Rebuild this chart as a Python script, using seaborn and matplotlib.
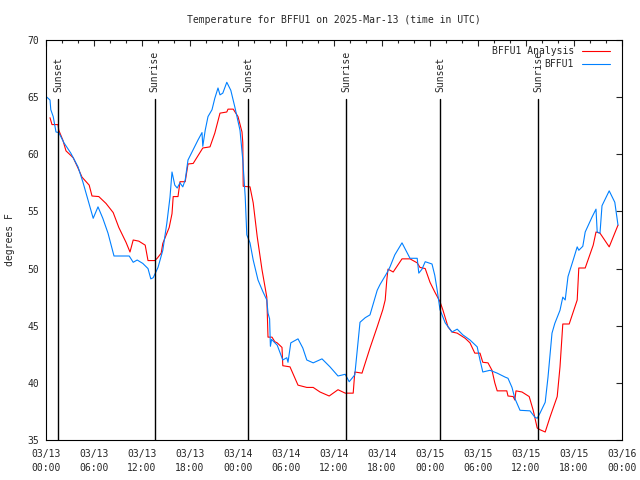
import matplotlib
matplotlib.use("Agg")
import matplotlib.pyplot as plt
import seaborn as sns
import pandas as pd
from matplotlib.ticker import MultipleLocator

# Hours since 2025-03-13 00:00 UTC
analysis_hours = [0.5, 0.75, 1.5, 1.6, 2.1, 2.5, 3.4, 4, 4.5, 5.4, 5.75, 6.6, 7.5, 8.4, 9.1, 10, 10.5, 10.9, 11.6, 12.4,
                  12.75, 13.6, 13.9, 14.4, 14.6, 15.4, 15.75, 15.9, 16.5, 16.75, 17.4, 17.75, 18.4, 19.6, 20.5, 21.1,
                  21.75, 22.6, 22.75, 23.4, 24, 24.5, 24.6, 24.65, 25.5, 25.9, 26.4, 27, 27.6, 27.75, 28.25, 28.6,
                  28.9, 29.5, 29.6, 30.5, 31.5, 32.6, 33.4, 34.25, 35.4, 36.5, 37.4, 38.4, 38.6, 39.5, 40.5, 41.4,
                  42.1, 42.4, 42.6, 42.75, 43.4, 44.5, 45.5, 46.4, 46.75, 47.4, 48, 48.6, 49.25, 49.6, 50.25, 50.75,
                  51.4, 52.4, 53, 53.6, 54.25, 54.6, 55.25, 55.75, 56.1, 56.4, 57.6, 57.75, 58.4, 58.6, 58.75, 59.5,
                  60.4, 60.9, 61.4, 61.75, 62.4, 63, 63.9, 64.25, 64.6, 65.4, 66.4, 66.6, 67.4, 68.4, 68.75, 69.25,
                  70.4, 71.5]
analysis_temp = [63.2, 62.6, 62.6, 62.1, 61.25, 60.3, 59.7, 58.8, 58.0, 57.3, 56.35, 56.3, 55.7, 54.9, 53.6, 52.3,
                 51.45, 52.5, 52.4, 52.05, 50.7, 50.7, 50.9, 51.35, 52.2, 53.6, 54.8, 56.3, 56.3, 57.6, 57.6, 59.15,
                 59.2, 60.55, 60.65, 61.85, 63.6, 63.7, 63.95, 63.95, 63.3, 61.95, 61.0, 57.2, 57.15, 55.75, 52.8,
                 49.9, 47.5, 44.0, 44.0, 43.6, 43.5, 43.1, 41.5, 41.4, 39.8, 39.6, 39.6, 39.2, 38.85, 39.4, 39.1,
                 39.1, 40.95, 40.85, 43.05, 44.9, 46.4, 47.25, 49.0, 49.95, 49.7, 50.85, 50.85, 50.5, 50.1, 50.0,
                 48.8, 47.95, 47.1, 46.4, 44.9, 44.45, 44.35, 43.9, 43.5, 42.6, 42.6, 41.8, 41.75, 41.1, 40.0, 39.3,
                 39.3, 38.85, 38.8, 38.5, 39.3, 39.2, 38.8, 37.6, 36.05, 35.9, 35.7, 37.0, 38.8, 41.4, 45.15, 45.15,
                 47.25, 50.05, 50.05, 52.05, 53.2, 53.1, 51.9, 53.8]

obs_hours = [0.1, 0.5, 0.6, 0.9, 1.25, 1.6, 2.25, 3.1, 4, 4.6, 5.25, 5.9, 6.5, 7.1, 7.75, 8.5, 10.4, 10.9, 11.4, 12.1,
             12.75, 13.1, 13.4, 14, 14.6, 15.1, 15.5, 15.75, 16.1, 16.4, 16.75, 17.1, 17.4, 17.75, 18.4, 19, 19.5,
             19.6, 19.9, 20.25, 20.75, 21.1, 21.5, 21.75, 22.1, 22.6, 23.1, 23.6, 24.25, 24.6, 24.9, 25.1, 25.5,
             25.9, 26.5, 27.1, 27.6, 27.75, 27.95, 28.05, 28.2, 28.9, 29.6, 30.1, 30.25, 30.6, 31.5, 32.1, 32.6,
             33.4, 34.5, 35.5, 36.5, 37.4, 37.9, 38.6, 39.25, 39.9, 40.5, 41.4, 41.75, 42.6, 43, 43.6, 44.5, 45.5,
             46.4, 46.6, 47, 47.4, 48.25, 48.6, 48.9, 49.25, 49.9, 50.75, 51.4, 52.1, 53, 53.9, 54.25, 54.6, 55.5,
             56.4, 57.4, 57.75, 58.25, 58.6, 59.25, 60.5, 61.1, 61.4, 61.75, 62.4, 62.75, 63.25, 63.6, 64.25, 64.6,
             64.9, 65.25, 65.9, 66.4, 66.6, 67.1, 67.4, 68.25, 68.75, 68.9, 69.25, 69.5, 70.4, 71.1, 71.5]
obs_temp = [65.0, 64.75, 63.9, 63.3, 61.95, 61.9, 61.0, 60.1, 58.9, 57.6, 56.0, 54.4, 55.4, 54.4, 53.1, 51.1, 51.1,
            50.55, 50.75, 50.45, 50.0, 49.1, 49.2, 50.1, 51.6, 53.95, 56.25, 58.45, 57.3, 57.05, 57.5, 57.15, 57.75,
            59.5, 60.4, 61.25, 61.9, 60.7, 62.1, 63.3, 63.9, 64.9, 65.8, 65.2, 65.35, 66.3, 65.6, 64.15, 62.1, 59.5,
            56.3, 52.95, 52.25, 50.75, 49.0, 48.0, 47.25, 46.1, 45.6, 43.2, 43.8, 43.3, 42.0, 42.2, 41.8, 43.5,
            43.85, 43.05, 42.0, 41.75, 42.1, 41.4, 40.6, 40.75, 40.1, 40.7, 45.3, 45.7, 45.95, 48.1, 48.6, 49.6,
            50.15, 51.2, 52.25, 50.9, 50.9, 49.6, 49.95, 50.6, 50.4, 49.4, 48.1, 46.4, 45.25, 44.45, 44.7, 44.2,
            43.75, 43.15, 42.0, 40.95, 41.1, 40.85, 40.5, 40.4, 39.6, 38.65, 37.6, 37.55, 37.0, 36.9, 37.35, 38.3,
            40.5, 44.35, 45.2, 46.35, 47.5, 47.25, 49.3, 50.75, 51.9, 51.6, 51.95, 53.2, 54.5, 55.2, 53.2, 53.1,
            55.5, 56.8, 55.8, 53.8]

sun_hours = [1.5, 13.6, 25.3, 37.55, 49.3, 61.55]
sun_labels = ["Sunset", "Sunrise", "Sunset", "Sunrise", "Sunset", "Sunrise"]

tick_hours = list(range(0, 73, 6))
tick_labels = ["03/13\n00:00", "03/13\n06:00", "03/13\n12:00", "03/13\n18:00",
               "03/14\n00:00", "03/14\n06:00", "03/14\n12:00", "03/14\n18:00",
               "03/15\n00:00", "03/15\n06:00", "03/15\n12:00", "03/15\n18:00",
               "03/16\n00:00"]

sns.set_style("white")
plt.rcParams['font.family'] = ['DejaVu Sans Mono']
plt.rcParams['font.size'] = 7

df_an = pd.DataFrame({"hour": analysis_hours, "temp": analysis_temp})
df_ob = pd.DataFrame({"hour": obs_hours, "temp": obs_temp})

fig = plt.figure(figsize=(6.4, 4.8), dpi=100)
ax = fig.add_axes([46 / 640, 40 / 480, 576 / 640, 400 / 480])

sns.lineplot(data=df_an, x="hour", y="temp", ax=ax, color="#ff0000", linewidth=0.8,
             label="BFFU1 Analysis", estimator=None)
sns.lineplot(data=df_ob, x="hour", y="temp", ax=ax, color="#0080ff", linewidth=0.8,
             label="BFFU1", estimator=None)

# sunrise / sunset markers
for h, lab in zip(sun_hours, sun_labels):
    ax.axvline(h, ymin=0, ymax=0.8525, color="black", linewidth=1)
    ax.text(h, 0.87, lab, transform=ax.get_xaxis_transform(), rotation=90,
            ha="center", va="bottom", fontsize=7)

ax.set_xlim(0, 72)
ax.set_ylim(35, 70)
ax.set_xticks(tick_hours)
ax.set_xticklabels(tick_labels, linespacing=1.45)
ax.xaxis.set_minor_locator(MultipleLocator(2))
ax.yaxis.set_major_locator(MultipleLocator(5))
ax.tick_params(which="both", direction="in", top=True, right=True, width=0.8, labelsize=7)
ax.tick_params(which="major", length=4.5)
ax.tick_params(axis="x", which="major", pad=6.5)
ax.tick_params(axis="y", which="major", pad=5)
ax.tick_params(which="minor", length=2.5)
for s in ax.spines.values():
    s.set_linewidth(0.8)
    s.set_color("black")

ax.set_xlabel("")
ax.set_ylabel("")
fig.text(10 / 640, 0.5, "degrees F", rotation=90, ha="center", va="center", fontsize=7)
ax.set_title("Temperature for BFFU1 on 2025-Mar-13 (time in UTC)", fontsize=7, pad=12)

ax.legend(loc="upper right", bbox_to_anchor=(0.979, 0.985), frameon=False, markerfirst=False,
          handlelength=2.9, handletextpad=0.8, labelspacing=0.3, borderpad=0, borderaxespad=0,
          fontsize=7)

fig.savefig("out.png", dpi=100)
